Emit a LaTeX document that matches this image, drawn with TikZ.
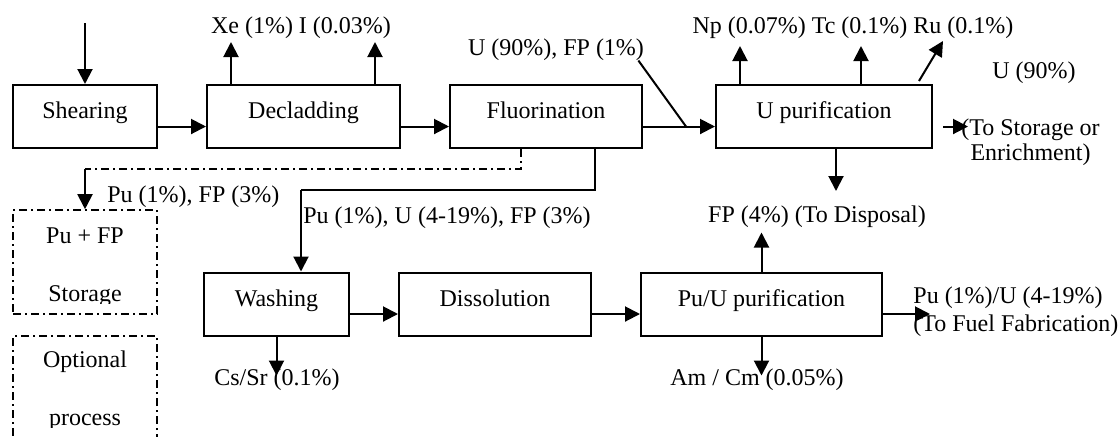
\documentclass[tikz,border=0pt]{standalone}
\usepackage{fontspec}
\setmainfont{Liberation Serif}
\usetikzlibrary{arrows.meta,positioning}

\begin{document}
\begin{tikzpicture}[
  x=0.5pt, y=-0.5pt,
  node distance=24pt and 24pt,
  font=\fontsize{12}{14}\selectfont,
  box/.style={rectangle, draw=black, line width=1pt, minimum height=31.5pt,
    text height=8pt, text depth=6pt, inner sep=2pt},
  optbox/.style={rectangle, draw=black, line width=0.8pt,
    dash pattern=on 4pt off 2pt on 1pt off 2pt},
  arrow/.style={-{Triangle[length=7.5pt,width=7.5pt]}, line width=1pt},
  flow/.style={line width=1pt},
  optline/.style={line width=0.8pt, dash pattern=on 4pt off 2pt on 1pt off 2pt},
  note/.style={inner sep=0pt, anchor=base}
]
\useasboundingbox (0,0) rectangle (1120,436);

\node[box, minimum width=72pt] (shear) at (85,116.5) {Shearing};
\node[box, minimum width=96.5pt, right=of shear] (declad) {Decladding};
\node[box, minimum width=96pt, right=of declad] (fluor) {Fluorination};
\node[box, minimum width=108pt, right=36pt of fluor] (upur) {U purification};
\node[box, minimum width=72.5pt] (wash) at (276.5,304) {Washing};
\node[box, minimum width=96pt, right=of wash] (dissol) {Dissolution};
\node[box, minimum width=120.5pt, right=of dissol] (pupur) {Pu/U purification};

\node[optbox, minimum width=72pt, minimum height=52pt] (store) at (85,262) {};
\node[optbox, minimum width=72pt, minimum height=62pt] (option) at (85,398) {};
\begin{scope}
  \clip (13,210) rectangle (157,303);
  \node[note] (pufp) at (85,243) {Pu + FP};
  \node[note] (storage) at (85,301) {Storage};
\end{scope}
\begin{scope}
  \clip (13,336) rectangle (157,427);
  \node[note] (optional) at (85,367) {Optional};
  \node[note] (process) at (85,425) {process};
\end{scope}

\coordinate (feed) at (85,23);
\draw[arrow] (feed) -- (shear);
\draw[arrow] ([yshift=-5pt]shear.east) -- ([yshift=-5pt]declad.west);
\draw[arrow] ([yshift=-5pt]declad.east) -- ([yshift=-5pt]fluor.west);
\draw[arrow] ([yshift=-5pt]fluor.east) -- ([yshift=-5pt]upur.west);

\node[note] (xei) at (301,33) {Xe (1\%) I (0.03\%)};
\draw[arrow] ([xshift=12.5pt]declad.north west) -- ++(0,21pt);
\draw[arrow] ([xshift=84.5pt]declad.north west) -- ++(0,21pt);

\node[note] (ufp) at (556,55) {U (90\%), FP (1\%)};
\coordinate (ujoin) at (686,126.5);
\draw[flow] ([xshift=-3pt]ufp.south east) -- (ujoin);

\coordinate (pubend) at (85,169);
\draw[optline] ([xshift=36pt]fluor.south west) |- (pubend);
\draw[arrow] (pubend) -- (store);
\node[note, anchor=base west] (pufp3) at (107,202) {Pu (1\%), FP (3\%)};

\coordinate (pujoin) at (301,190);
\draw[flow] ([xshift=-24pt]fluor.south east) |- (pujoin);
\draw[arrow] (pujoin) -- (pujoin |- wash.north);
\node[note, anchor=base west] (puufp) at (303,223) {Pu (1\%), U (4-19\%), FP (3\%)};

\node[note] (nptcru) at (853,33) {Np (0.07\%) Tc (0.1\%) Ru (0.1\%)};
\draw[arrow] ([xshift=12.5pt]upur.north west) -- ++(0,19pt);
\draw[arrow] ([xshift=73pt]upur.north west) -- ++(0,19pt);
\draw[arrow] ([xshift=-7pt,yshift=1.5pt]upur.north east) -- ++(12pt,20pt);
\node[note] (u90) at (1034,78) {U (90\%)};
\draw[arrow] ([xshift=5pt,yshift=-5pt]upur.east) -- ++(12.5pt,0);
\node[note, align=center, anchor=west] (ustore) at (961,142) {(To Storage or\\[-1.5pt]Enrichment)};
\draw[arrow] ([xshift=6pt]upur.south) -- ++(0,-21pt);
\node[note] (fpdisp) at (817,222) {FP (4\%) (To Disposal)};

\draw[arrow] ([yshift=-5pt]wash.east) -- ([yshift=-5pt]dissol.west);
\draw[arrow] ([yshift=-5pt]dissol.east) -- ([yshift=-5pt]pupur.west);
\draw[arrow] (wash.south) -- ++(0,-19.5pt);
\node[note] (cssr) at (277,385) {Cs/Sr (0.1\%)};
\draw[arrow] (pupur.north) -- ++(0,19.5pt);
\draw[arrow] (pupur.south) -- ++(0,-19.5pt);
\node[note] (amcm) at (757,385) {Am / Cm (0.05\%)};
\draw[arrow] ([yshift=-5pt]pupur.east) -- ++(23.5pt,0);
\node[note, anchor=base west, align=left] (pufuel) at (913,331) {Pu (1\%)/U (4-19\%)\\(To Fuel Fabrication)};

\end{tikzpicture}
\end{document}
